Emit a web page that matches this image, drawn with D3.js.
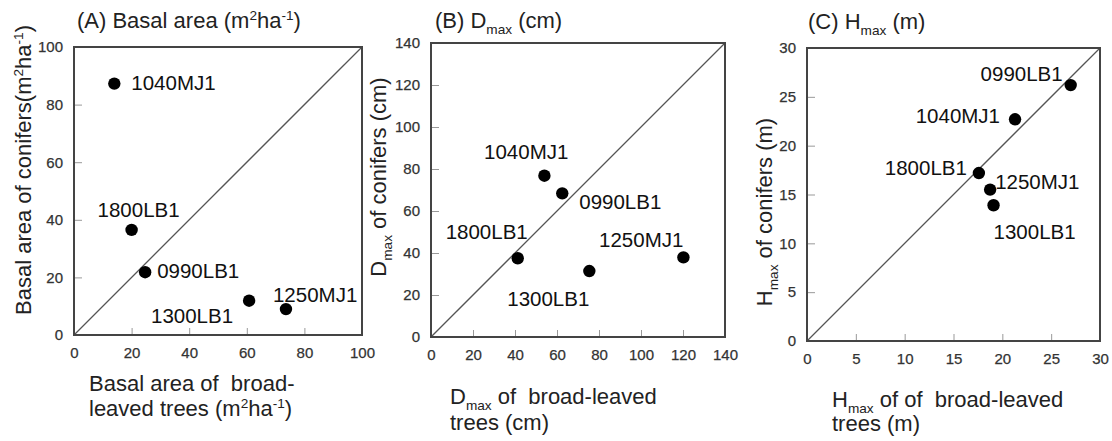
<!DOCTYPE html>
<html>
<head>
<meta charset="utf-8">
<script src="https://cdn.jsdelivr.net/npm/d3@7"></script>
<style>
  body { margin: 0; background: #fff; }
  svg { display: block; font-family: "Liberation Sans", Arial, Helvetica, sans-serif; }
  .tick text { fill: #333; font-size: 15px; stroke: #333; stroke-width: 0.25px; }
  .tick line { stroke: #999; }
</style>
</head>
<body>
<svg id="chart" width="1112" height="441"></svg>
<script>
// sites (same order in every panel)
const sites = ["1040MJ1", "1800LB1", "0990LB1", "1300LB1", "1250MJ1"];

// (A) basal area, m2/ha
const basalBroad   = [14, 20, 24.7, 60.8, 73.6];
const basalConifer = [87.3, 36.5, 21.8, 11.9, 9];
const basalTicks   = [0, 20, 40, 60, 80, 100];

// (B) Dmax, cm
const dmaxBroad   = [54, 41.3, 62.5, 75.4, 120.2];
const dmaxConifer = [76.8, 37.5, 68.4, 31.4, 37.9];
const dmaxTicks   = [0, 20, 40, 60, 80, 100, 120, 140];

// (C) Hmax, m
const hmaxBroad   = [21.3, 17.6, 27, 19.1, 18.75];
const hmaxConifer = [22.7, 17.2, 26.2, 13.9, 15.5];
const hmaxTicks   = [0, 5, 10, 15, 20, 25, 30];

const svg = d3.select("#chart");

// text pieces: plain string, or [text, "sup"|"sub"]
function richText(sel, parts, size){
    let shift = 0;
    parts.forEach(p => {
        let txt = typeof p === "string" ? p : p[0];
        let kind = typeof p === "string" ? null : p[1];
        let target = kind === "sup" ? -0.36 * size : kind === "sub" ? 0.25 * size : 0;
        let ts = sel.append("tspan").attr("dy", target - shift).text(txt);
        if (kind) ts.style("font-size", (size * 0.62) + "px");
        shift = target;
    });
}

const panels = [
    {
        box: [74, 362, 47, 335], domain: [0, 100], ticks: basalTicks,
        xs: basalBroad, ys: basalConifer,
        title: ["(A) Basal area (m", ["2", "sup"], "ha", ["-1", "sup"], ")"], titleAt: [77, 28],
        xTitle: [["Basal area of  broad-"], ["leaved trees (m", ["2", "sup"], "ha", ["-1", "sup"], ")"]],
        xTitleAt: [89, 391, 416],
        yTitle: ["Basal area of conifers(m", ["2", "sup"], "ha", ["-1", "sup"], ")"], yTitleAt: [31, 170],
        labels: {
            "1040MJ1": ["start", 17, 6], "1800LB1": ["middle", 7, -13], "0990LB1": ["start", 12, 6],
            "1300LB1": ["end", -16, 22], "1250MJ1": ["start", -13, -7]
        }
    },
    {
        box: [431, 725, 43, 337], domain: [0, 140], ticks: dmaxTicks,
        xs: dmaxBroad, ys: dmaxConifer,
        title: ["(B) D", ["max", "sub"], " (cm)"], titleAt: [435, 28],
        xTitle: [["D", ["max", "sub"], " of  broad-leaved"], ["trees (cm)"]],
        xTitleAt: [450, 404, 430],
        yTitle: ["D", ["max", "sub"], " of conifers (cm)"], yTitleAt: [386, 177],
        labels: {
            "1040MJ1": ["end", 24, -17], "1800LB1": ["end", 10, -19], "0990LB1": ["start", 17, 16],
            "1300LB1": ["end", 0, 35], "1250MJ1": ["end", 0, -10]
        }
    },
    {
        box: [807, 1100, 48, 341], domain: [0, 30], ticks: hmaxTicks,
        xs: hmaxBroad, ys: hmaxConifer,
        title: ["(C) H", ["max", "sub"], " (m)"], titleAt: [808, 29],
        xTitle: [["H", ["max", "sub"], " of of  broad-leaved"], ["trees (m)"]],
        xTitleAt: [832, 407, 431],
        yTitle: ["H", ["max", "sub"], " of conifers (m)"], yTitleAt: [772, 212],
        labels: {
            "1040MJ1": ["end", -15, 4], "1800LB1": ["end", -12, 2], "0990LB1": ["end", -8, -4],
            "1300LB1": ["start", 0, 34], "1250MJ1": ["start", 5, -1]
        }
    }
];

panels.forEach(p => {
    let [x0, x1, y0, y1] = p.box;
    let x = d3.scaleLinear().domain(p.domain).range([x0, x1]);
    let y = d3.scaleLinear().domain(p.domain).range([y1, y0]);
    let g = svg.append("g");

    // axes with inward ticks
    g.append("g")
        .attr("transform", "translate(0," + y1 + ")")
        .call(d3.axisBottom(x).tickValues(p.ticks).tickSize(-7).tickPadding(12))
        .call(a => a.select(".domain").remove());
    g.append("g")
        .attr("transform", "translate(" + x0 + ",0)")
        .call(d3.axisLeft(y).tickValues(p.ticks).tickSize(-8).tickPadding(11))
        .call(a => a.select(".domain").remove());

    // 1:1 line
    g.append("line")
        .attr("x1", x(p.domain[0])).attr("y1", y(p.domain[0]))
        .attr("x2", x(p.domain[1])).attr("y2", y(p.domain[1]))
        .attr("stroke", "#555").attr("stroke-width", 1.3);

    // frame
    g.append("rect")
        .attr("x", x0).attr("y", y0)
        .attr("width", x1 - x0).attr("height", y1 - y0)
        .attr("fill", "none").attr("stroke", "#444").attr("stroke-width", 2);

    // points + labels
    let pts = sites.map((s, i) => ({site: s, bx: p.xs[i], cy: p.ys[i]}));
    g.selectAll("circle.pt").data(pts).join("circle")
        .attr("class", "pt")
        .attr("cx", d => x(d.bx)).attr("cy", d => y(d.cy))
        .attr("r", 6.2).attr("fill", "#000");
    g.selectAll("text.lab").data(pts).join("text")
        .attr("class", "lab")
        .attr("x", d => x(d.bx) + p.labels[d.site][1])
        .attr("y", d => y(d.cy) + p.labels[d.site][2])
        .attr("text-anchor", d => p.labels[d.site][0])
        .style("font-size", "20.5px").attr("fill", "#111")
        .text(d => d.site);

    // panel title
    let t = g.append("text")
        .attr("x", p.titleAt[0]).attr("y", p.titleAt[1])
        .style("font-size", "22px").attr("fill", "#222");
    richText(t, p.title, 22);

    // x title (two lines)
    p.xTitle.forEach((line, i) => {
        let xt = g.append("text")
            .attr("x", p.xTitleAt[0]).attr("y", p.xTitleAt[1 + i])
            .style("font-size", "22px").style("white-space", "pre").attr("fill", "#222");
        richText(xt, line, 22);
    });

    // y title
    let yt = g.append("text")
        .attr("transform", "translate(" + p.yTitleAt[0] + "," + p.yTitleAt[1] + ") rotate(-90)")
        .attr("text-anchor", "middle")
        .style("font-size", "22px").attr("fill", "#222");
    richText(yt, p.yTitle, 22);
});
</script>
</body>
</html>
